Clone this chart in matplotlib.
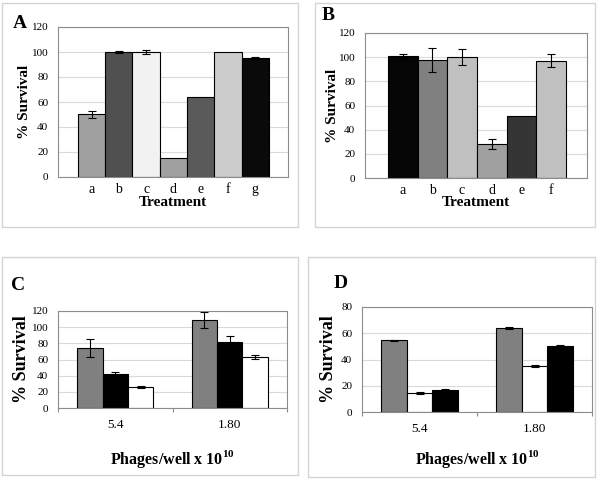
import matplotlib.pyplot as plt
from matplotlib.patches import Rectangle

plt.rcParams["font.family"] = ["Liberation Serif", "DejaVu Serif"]
plt.rcParams["mathtext.fontset"] = "custom"
plt.rcParams["mathtext.rm"] = "Liberation Serif:bold"
plt.rcParams["mathtext.bf"] = "Liberation Serif:bold"

# panel A
a_labels = ["a", "b", "c", "d", "e", "f", "g"]
a_values = [50, 100, 100, 15, 64, 100, 95]
a_errors = [3, 0.5, 1.5, 0, 0, 0, 1]
a_colors = ["#a0a0a0", "#505050", "#f2f2f2", "#a0a0a0", "#5a5a5a", "#cccccc", "#0a0a0a"]

# panel B
b_labels = ["a", "b", "c", "d", "e", "f"]
b_values = [101, 98, 100, 28, 51, 97]
b_errors = [1.5, 10, 6.5, 4, 0, 5.5]
b_colors = ["#050505", "#808080", "#c0c0c0", "#a0a0a0", "#353535", "#c0c0c0"]

# panels C and D
doses = ["5.4", "1.80"]
c_series = [[74, 109], [42, 82], [26, 63]]
c_errors = [[11, 10], [2, 7], [1, 2]]
c_colors = ["#808080", "#000000", "#ffffff"]

d_series = [[54.5, 64], [14.5, 35], [17, 50]]
d_errors = [[0.5, 0.7], [0.5, 0.5], [0.5, 1]]
d_colors = ["#808080", "#ffffff", "#000000"]

W, H = 600, 479
fig = plt.figure(figsize=(W / 100, H / 100), dpi=100)


def px_axes(left, top, right, bottom):
    ax = fig.add_axes([left / W, 1 - bottom / H, (right - left) / W, (bottom - top) / H])
    ax.box_px = (left, top, right, bottom)
    return ax


def frame(left, top, right, bottom):
    fig.patches.append(Rectangle((left / W, 1 - bottom / H), (right - left) / W, (bottom - top) / H,
                                 transform=fig.transFigure, fill=False, edgecolor="#d4d4d4", lw=1))


def place_labels(ax, ylabel_x, xlabel_y):
    # label centres given in figure pixels
    left, top, right, bottom = ax.box_px
    ax.yaxis.set_label_coords((ylabel_x - left) / (right - left), 0.5)
    ax.yaxis.label.set_va("center")
    ax.xaxis.set_label_coords(0.5, (bottom - xlabel_y) / (bottom - top))
    ax.xaxis.label.set_va("center")


def style(ax, ymax, ylabel_size):
    ax.set_ylim(0, ymax)
    ax.set_yticks(range(0, ymax + 1, 20))
    ax.yaxis.grid(True, color="#dadada", lw=0.8)
    ax.set_axisbelow(True)
    for s in ax.spines.values():
        s.set_color("#8c8c8c")
        s.set_linewidth(0.8)
    ax.tick_params(axis="y", length=0, pad=7, labelsize=8)
    ax.set_ylabel("% Survival", fontsize=ylabel_size, fontweight="bold")


def treatment_panel(ax, labels, values, errors, colors, left_pad, right_pad):
    x = range(len(values))
    ax.bar(x, values, width=1.0, color=colors, edgecolor="black", lw=0.8)
    ex = [i for i, e in zip(x, errors) if e > 0]
    ax.errorbar(ex, [values[i] for i in ex], yerr=[errors[i] for i in ex], fmt="none",
                ecolor="black", elinewidth=0.8, capsize=3, capthick=0.8)
    ax.set_xlim(-0.5 - left_pad, len(values) - 0.5 + right_pad)
    ax.set_xticks(list(x))
    ax.set_xticklabels(labels, fontsize=10)
    ax.tick_params(axis="x", length=0, pad=4)
    style(ax, 120, 11)
    ax.set_xlabel("Treatment", fontsize=11, fontweight="bold")


def dose_panel(ax, series, errors, colors, width, ymax):
    for k, (vals, errs, col) in enumerate(zip(series, errors, colors)):
        pos = [i + (k - 1) * width for i in range(len(vals))]
        ax.bar(pos, vals, width=width, color=col, edgecolor="black", lw=0.8)
        ax.errorbar(pos, vals, yerr=errs, fmt="none", ecolor="black",
                    elinewidth=0.8, capsize=3, capthick=0.8)
    ax.set_xlim(-0.5, len(doses) - 0.5)
    ax.set_xticks(range(len(doses)))
    ax.set_xticklabels(doses, fontsize=9.5)
    ax.set_xticks([-0.5, 0.5, 1.5], minor=True)
    ax.tick_params(axis="x", which="major", length=0, pad=8)
    ax.tick_params(axis="x", which="minor", length=3, color="#8c8c8c", width=0.8)
    style(ax, ymax, 13)
    ax.set_xlabel("Phages/well x 10$^{10}$", fontsize=11.5, fontweight="bold")


frame(2, 3, 298, 227)
frame(315, 3, 595, 227)
frame(2, 257, 298, 475)
frame(308, 257, 595, 477)

ax_a = px_axes(58, 27, 288, 177)
treatment_panel(ax_a, a_labels, a_values, a_errors, a_colors, 0.73, 0.7)
place_labels(ax_a, 25, 203)
ax_b = px_axes(365, 33, 587, 178)
treatment_panel(ax_b, b_labels, b_values, b_errors, b_colors, 0.77, 0.71)
place_labels(ax_b, 333, 203)
ax_c = px_axes(58, 311, 287, 408)
dose_panel(ax_c, c_series, c_errors, c_colors, 0.221, 120)
place_labels(ax_c, 22, 459)
ax_d = px_axes(362, 307, 592, 412)
dose_panel(ax_d, d_series, d_errors, d_colors, 0.223, 80)
place_labels(ax_d, 328, 459)

for lbl, x, y in [("A", 20, 23), ("B", 328, 15), ("C", 18, 285), ("D", 341, 283)]:
    fig.text(x / W, 1 - y / H, lbl, fontsize=14, fontweight="bold", ha="center", va="center")

fig.savefig("out.png", dpi=100)
